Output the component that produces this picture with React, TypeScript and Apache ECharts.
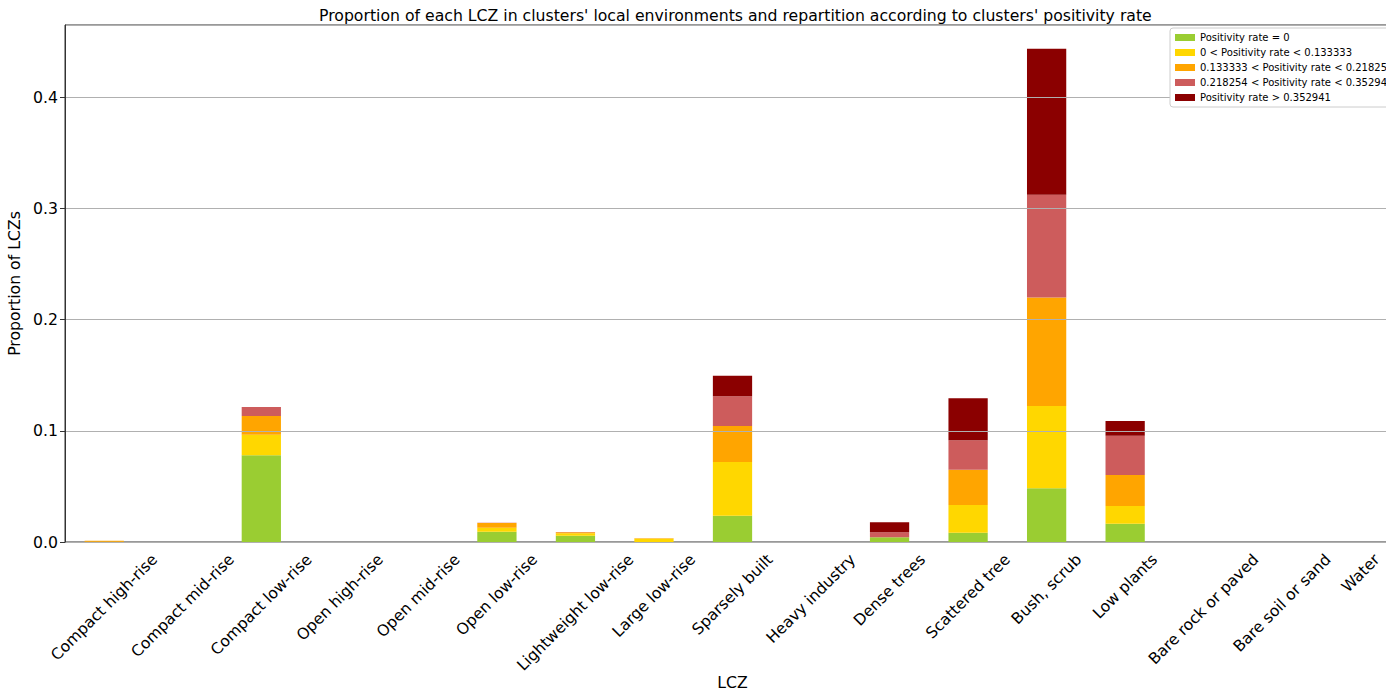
import React, { useEffect, useRef } from "react";
import * as echarts from "echarts";

const FONT = "DejaVu Sans";

const categories = [
  "Compact high-rise",
  "Compact mid-rise",
  "Compact low-rise",
  "Open high-rise",
  "Open mid-rise",
  "Open low-rise",
  "Lightweight low-rise",
  "Large low-rise",
  "Sparsely built",
  "Heavy industry",
  "Dense trees",
  "Scattered tree",
  "Bush, scrub",
  "Low plants",
  "Bare rock or paved",
  "Bare soil or sand",
  "Water",
];

const seriesNames = [
  "Positivity rate = 0",
  "0 < Positivity rate < 0.133333",
  "0.133333 < Positivity rate < 0.21825",
  "0.218254 < Positivity rate < 0.35294",
  "Positivity rate > 0.352941",
];

const seriesColors = ["#9acd32", "#ffd700", "#ffa500", "#cd5c5c", "#8b0000"];

const rateZero = [0, 0, 0.078, 0, 0, 0.0093, 0.0057, 0, 0.0237, 0, 0.0042, 0.0084, 0.0483, 0.0165, 0, 0, 0];
const rateLow = [0.0003, 0, 0.0185, 0, 0, 0.0036, 0.0021, 0.003, 0.0482, 0, 0, 0.0249, 0.074, 0.0159, 0, 0, 0];
const rateMid = [0.0008, 0, 0.0168, 0, 0, 0.0042, 0.0009, 0.0004, 0.0324, 0, 0, 0.0317, 0.0977, 0.0279, 0, 0, 0];
const rateHigh = [0, 0, 0.0081, 0, 0, 0.0003, 0.0002, 0, 0.0267, 0, 0.0045, 0.0265, 0.0923, 0.0353, 0, 0, 0];
const rateTop = [0, 0, 0, 0, 0, 0, 0, 0, 0.0186, 0, 0.009, 0.0377, 0.1313, 0.0132, 0, 0, 0];

const seriesValues = [rateZero, rateLow, rateMid, rateHigh, rateTop];

const yTicks = [0, 0.1, 0.2, 0.3, 0.4];

export default function App() {
  const ref = useRef<HTMLDivElement>(null);

  useEffect(() => {
    if (!ref.current) return;
    const chart = echarts.init(ref.current, null, { renderer: "svg" });

    chart.setOption({
      animation: false,
      textStyle: { fontFamily: FONT },
      title: {
        text: "Proportion of each LCZ in clusters' local environments and repartition according to clusters' positivity rate",
        left: 314,
        top: 2,
        textStyle: { fontFamily: FONT, fontSize: 15.7, fontWeight: "normal", color: "#000" },
      },
      // the plotting area runs slightly past the right edge of the figure
      grid: {
        left: 65,
        right: -14,
        top: 25,
        bottom: 148,
        outerBoundsMode: "none",
        containLabel: false,
        show: true,
        borderColor: "#333",
        borderWidth: 1,
        backgroundColor: "transparent",
      },
      legend: {
        orient: "vertical",
        left: 1170,
        top: 28,
        z: 10,
        data: seriesNames,
        icon: "rect",
        itemWidth: 20,
        itemHeight: 7,
        itemGap: 4,
        padding: [4, 4, 4, 5],
        backgroundColor: "#fff",
        borderColor: "#cccccc",
        borderWidth: 1,
        borderRadius: 3,
        textStyle: { fontFamily: FONT, fontSize: 10, color: "#000", lineHeight: 11 },
      },
      xAxis: {
        type: "category",
        data: categories,
        name: "LCZ",
        nameLocation: "middle",
        nameGap: 132,
        nameTextStyle: { fontFamily: FONT, fontSize: 15.7, color: "#000" },
        axisLine: { lineStyle: { color: "#333", width: 1 } },
        axisTick: { alignWithLabel: true, length: 5, lineStyle: { color: "#333" } },
        axisLabel: { show: false },
        splitLine: { show: false },
      },
      yAxis: {
        type: "value",
        min: 0,
        max: 0.465,
        interval: 0.1,
        z: 3,
        name: "Proportion of LCZs",
        nameLocation: "middle",
        nameGap: 33,
        nameTextStyle: { fontFamily: FONT, fontSize: 15.7, color: "#000" },
        axisLine: { show: true, lineStyle: { color: "#333", width: 1 } },
        axisTick: { show: true, length: 5, lineStyle: { color: "#333" } },
        axisLabel: {
          fontFamily: FONT,
          fontSize: 15.7,
          color: "#000",
          margin: 7,
          showMaxLabel: false,
          formatter: (v: number) => (yTicks.some((t) => Math.abs(t - v) < 1e-9) ? v.toFixed(1) : ""),
        },
        splitLine: { show: true, lineStyle: { color: "#b0b0b0", width: 1 } },
      },
      series: seriesNames.map((name, i) => ({
        name,
        type: "bar",
        stack: "total",
        barWidth: "50%",
        itemStyle: { color: seriesColors[i] },
        data: seriesValues[i],
      })),
    });

    // Category labels: rotated 45° and centred under each tick
    const canvas = document.createElement("canvas");
    const ctx = canvas.getContext("2d")!;
    const labelFont = `15.6px "${FONT}"`;
    ctx.font = labelFont;
    const axisY = chart.convertToPixel({ yAxisIndex: 0 }, 0) as number;
    const lineH = 17;
    const labels = categories.map((cat, i) => {
      const x = chart.convertToPixel({ xAxisIndex: 0 }, i) as number;
      const w = ctx.measureText(cat).width;
      const box = (w + lineH) * Math.SQRT1_2;
      return {
        type: "text",
        x,
        y: axisY + 9 + box / 2,
        rotation: Math.PI / 4,
        silent: true,
        style: {
          text: cat,
          font: labelFont,
          fill: "#000",
          textAlign: "center",
          textVerticalAlign: "middle",
          align: "center",
          verticalAlign: "middle",
        },
      };
    });
    chart.setOption({ graphic: labels });

    return () => chart.dispose();
  }, []);

  return (
    <div
      ref={ref}
      style={{ position: "absolute", left: 0, top: 0, width: 1386, height: 690, background: "#fff" }}
    />
  );
}
